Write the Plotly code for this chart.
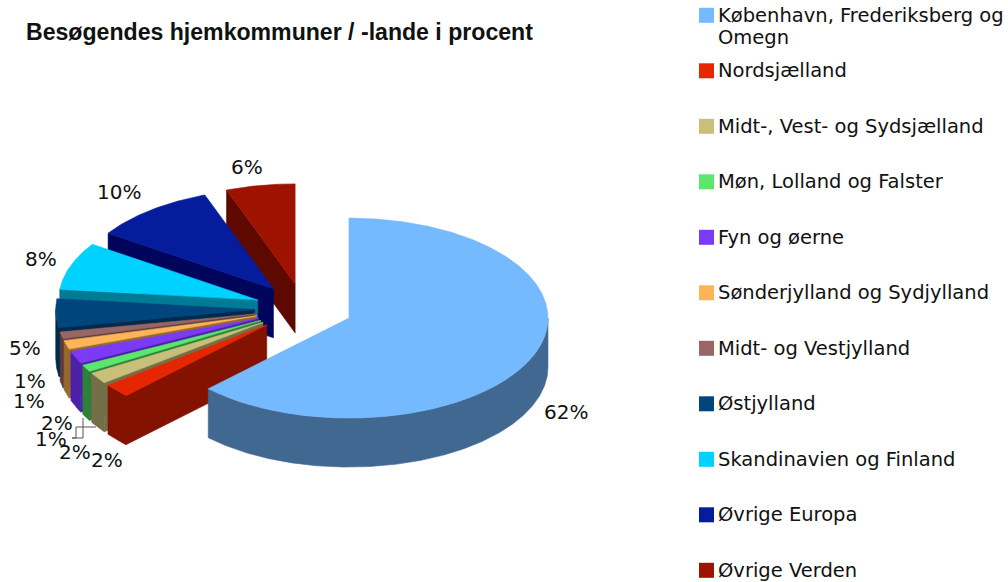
import math
import plotly.graph_objects as go

TITLE = "Besøgendes hjemkommuner / -lande i procent"
categories = ["København, Frederiksberg og<br>Omegn", "Nordsjælland", "Midt-, Vest- og Sydsjælland",
              "Møn, Lolland og Falster", "Fyn og øerne", "Sønderjylland og Sydjylland",
              "Midt- og Vestjylland", "Østjylland", "Skandinavien og Finland", "Øvrige Europa", "Øvrige Verden"]
values = [62.5, 2.2, 1.8, 1.1, 2.0, 1.4, 1.1, 4.6, 7.7, 10.0, 5.6]
value_labels = ["62%", "2%", "2%", "1%", "2%", "1%", "1%", "5%", "8%", "10%", "6%"]
top_colors = ["#75B9FF", "#E62600", "#C8BF7A", "#5CE66E", "#7B3AF5", "#FFB457",
              "#996666", "#00457C", "#00D2FF", "#051D9C", "#9E1300"]
side_colors = ["#406890", "#841200", "#746F47", "#2F8039", "#4C20A8", "#96692F",
               "#5C3D3D", "#002A4C", "#007B95", "#00055C", "#5D0900"]
label_x = [566, 107, 75, 51, 57, 29, 30, 25, 41, 119, 247]
label_y = [412, 460, 452, 439, 423, 401, 381, 348, 259, 192, 167]
leader_x = [96, 76, 76, 72, 83, 83]
leader_y = [427, 427, 438, 438, 438, 418]

CX, CY, RX, RY, DEPTH, EXPLODE, EXPLODE_Y = 303.7, 308.5, 199, 100, 49, 49, 25

total = sum(values)
fig = go.Figure()


def face(xs, ys, color, name):
    fig.add_trace(go.Scatter(x=xs, y=ys, mode="lines", fill="toself", fillcolor=color,
                             line=dict(color=color, width=0.6), hoverinfo="skip",
                             showlegend=False, name=name))


def arc(cx, cy, a, b, dy=0, n=None):
    n = n or max(2, int(abs(b - a) * 2))
    pts = [a + (b - a) * i / n for i in range(n + 1)]
    return ([cx + RX * math.sin(math.radians(t)) for t in pts],
            [cy - RY * math.cos(math.radians(t)) + dy for t in pts])


# wedge angular ranges, clockwise from twelve o'clock
ranges = []
acc = 0
for v in values:
    ranges.append((acc / total * 360, (acc + v) / total * 360))
    acc += v

# painter's order: back wedges first, largest front wedge last
order = list(range(len(values) - 1, -1, -1))
for i in order:
    a, b = ranges[i]
    mid = math.radians((a + b) / 2)
    cx = CX + EXPLODE * math.sin(mid)
    cy = CY - EXPLODE_Y * math.cos(mid)
    name = categories[i]
    # outer rim
    lo, hi = max(a, 90), min(b, 270)
    if hi > lo:
        tx, ty = arc(cx, cy, lo, hi)
        bx, by = arc(cx, cy, hi, lo, dy=DEPTH)
        face(tx + bx + tx[:1], ty + by + ty[:1], side_colors[i], name)
    # radial walls that face the viewer
    for ang, normal in ((a, a - 90), (b, b + 90)):
        if math.cos(math.radians(normal)) < -1e-6:
            ex, ey = arc(cx, cy, ang, ang, n=1)
            face([cx, ex[0], ex[0], cx, cx], [cy, ey[0], ey[0] + DEPTH, cy + DEPTH, cy], side_colors[i], name)
    # top
    tx, ty = arc(cx, cy, a, b)
    face([cx] + tx + [cx], [cy] + ty + [cy], top_colors[i], name)

# leader lines of the crowded labels
fig.add_trace(go.Scatter(x=leader_x, y=leader_y, mode="lines", line=dict(color="#555555", width=1),
                         hoverinfo="skip", showlegend=False))

annotations = []
for i, t in enumerate(value_labels):
    annotations.append(dict(x=label_x[i], y=label_y[i], text=t, showarrow=False,
                            xanchor="center", yanchor="middle",
                            font=dict(family="DejaVu Sans", size=20, color="#111111")))

# legend keys and texts
LEG_STEP = 55.5
leg_y = [15.3 + LEG_STEP * i for i in range(len(categories))]
fig.add_trace(go.Scatter(x=[706.5] * len(categories), y=leg_y, mode="markers",
                         marker=dict(symbol="square", size=15, color=top_colors, line=dict(width=0)),
                         hoverinfo="skip", showlegend=False))
for i, c in enumerate(categories):
    for k, line in enumerate(c.split("<br>")):
        annotations.append(dict(x=716, y=leg_y[i] + k * 22, text=line, showarrow=False, align="left",
                                xanchor="left", yanchor="middle",
                                font=dict(family="DejaVu Sans", size=19.5, color="#111111")))

annotations.append(dict(x=24, y=32, text=f"<b>{TITLE}</b>", showarrow=False, xanchor="left", yanchor="middle",
                        font=dict(family="Liberation Sans", size=23.1, color="#111111")))

fig.update_layout(
    width=1008, height=582, margin=dict(l=0, r=0, t=0, b=0),
    paper_bgcolor="white", plot_bgcolor="white", showlegend=False, annotations=annotations,
    xaxis=dict(range=[0, 1008], visible=False, fixedrange=True),
    yaxis=dict(range=[582, 0], visible=False, fixedrange=True),
)
fig.write_html("out.html", config=dict(displayModeBar=False), default_width="1008px", default_height="582px",
               post_script="document.body.style.margin='0';document.body.style.overflow='hidden';")
